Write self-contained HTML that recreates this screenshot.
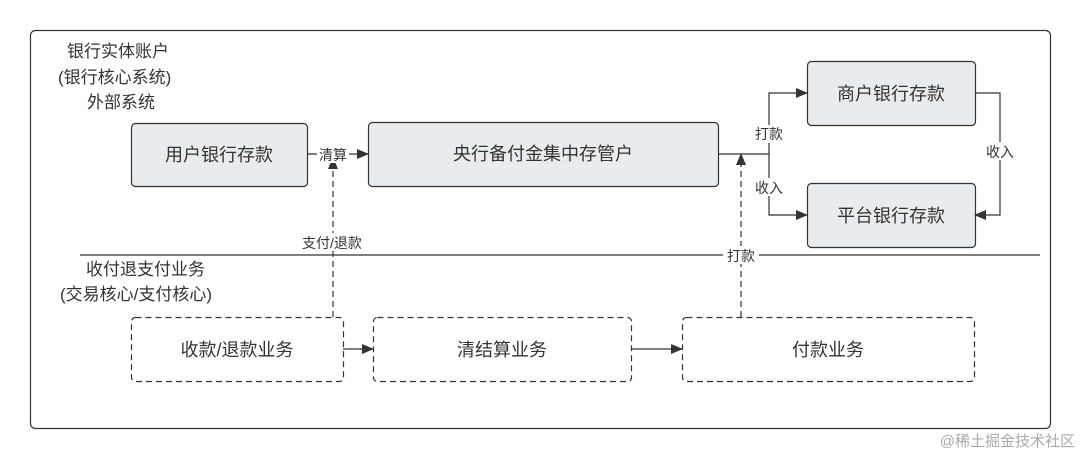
<!DOCTYPE html><html><head><meta charset="utf-8"><style>body{margin:0;background:#fff}svg text{font-family:"Liberation Sans","Noto Sans CJK SC",sans-serif;fill:#333}</style></head><body>
<svg width="1080" height="459" viewBox="0 0 1080 459">
<defs><marker id="a" markerWidth="12" markerHeight="10" refX="11" refY="5" orient="auto" markerUnits="userSpaceOnUse"><path d="M0,0L12,5L0,10z" fill="#333"/></marker></defs>
<rect x="30.5" y="30.5" width="1020" height="398" rx="5" fill="#fff" stroke="#333" stroke-width="1.2"/>
<g font-size="17"><text x="67" y="57">银行实体账户</text><text x="58" y="83">(银行核心系统)</text><text x="87" y="108">外部系统</text>
<text x="86" y="275">收付退支付业务</text><text x="60" y="300">(交易核心/支付核心)</text></g>
<line x1="80" y1="255" x2="1040" y2="255" stroke="#333" stroke-width="1.2"/>
<g fill="#e9ecee" stroke="#333" stroke-width="1.2">
<rect x="131.5" y="123.5" width="176" height="63" rx="4"/>
<rect x="368.5" y="122.5" width="350" height="64" rx="4"/>
<rect x="807.5" y="61.5" width="168" height="64" rx="4"/>
<rect x="807.5" y="183.5" width="168" height="64" rx="4"/></g>
<g fill="none" stroke="#333" stroke-width="1.2" stroke-dasharray="6,4">
<rect x="131.5" y="317.5" width="212" height="64" rx="4"/>
<rect x="373.5" y="317.5" width="258" height="64" rx="4"/>
<rect x="682.5" y="317.5" width="292" height="64" rx="4"/>
<line x1="333" y1="317" x2="333" y2="158" marker-end="url(#a)"/>
<line x1="741" y1="317" x2="741" y2="154" marker-end="url(#a)"/></g>
<g fill="none" stroke="#333" stroke-width="1.2">
<line x1="307" y1="154" x2="368" y2="154" marker-end="url(#a)"/>
<line x1="718" y1="154" x2="769" y2="154"/>
<polyline points="769,154 769,93 807,93" marker-end="url(#a)"/>
<polyline points="769,154 769,215 807,215" marker-end="url(#a)"/>
<polyline points="975,93 1000,93 1000,215 975,215" marker-end="url(#a)"/>
<line x1="343" y1="349" x2="373" y2="349" marker-end="url(#a)"/>
<line x1="631" y1="349" x2="682" y2="349" marker-end="url(#a)"/></g>
<g font-size="14" text-anchor="middle">
<rect x="317" y="145" width="32" height="18" fill="#fff"/><text x="333" y="160">清算</text>
<rect x="296" y="233" width="76" height="18" fill="#fff"/><text x="332" y="248">支付/退款</text>
<rect x="723" y="246" width="36" height="18" fill="#fff"/><text x="741" y="261">打款</text>
<rect x="752" y="125" width="34" height="18" fill="#fff"/><text x="769" y="139">打款</text>
<rect x="752" y="178" width="34" height="18" fill="#fff"/><text x="769" y="193">收入</text>
<rect x="983" y="142" width="34" height="18" fill="#fff"/><text x="1000" y="157">收入</text></g>
<g font-size="18" text-anchor="middle">
<text x="219" y="161">用户银行存款</text><text x="543" y="160">央行备付金集中存管户</text>
<text x="891" y="100">商户银行存款</text><text x="891" y="222">平台银行存款</text>
<text x="237" y="356">收款/退款业务</text><text x="502" y="356">清结算业务</text><text x="828" y="356">付款业务</text></g>
<text x="1075" y="446" font-size="15" text-anchor="end" style="fill:#aaa">@稀土掘金技术社区</text>
</svg></body></html>
